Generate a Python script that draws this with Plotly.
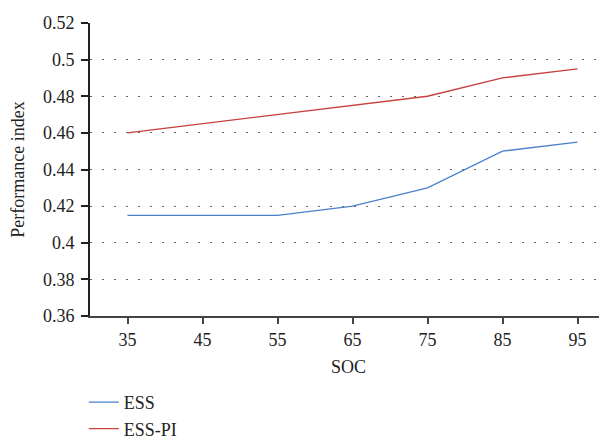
import plotly.graph_objects as go

soc = [35, 45, 55, 65, 75, 85, 95]
ess = [0.415, 0.415, 0.415, 0.42, 0.43, 0.45, 0.455]
ess_pi = [0.46, 0.465, 0.47, 0.475, 0.48, 0.49, 0.495]
y_ticks = [0.36, 0.38, 0.40, 0.42, 0.44, 0.46, 0.48, 0.50, 0.52]
y_tick_text = ["0.36", "0.38", "0.4", "0.42", "0.44", "0.46", "0.48", "0.5", "0.52"]

FONT = "Liberation Serif, serif"

fig = go.Figure()
fig.add_trace(go.Scatter(x=soc, y=ess, mode="lines", name="ESS",
                         line=dict(color="#4a80cc", width=1.3)))
fig.add_trace(go.Scatter(x=soc, y=ess_pi, mode="lines", name="ESS-PI",
                         line=dict(color="#c8403e", width=1.3)))

# page body has ~8px default margin, so the figure is sized/offset to compensate
fig.update_layout(
    width=599, height=434,
    margin=dict(l=82, r=0, t=15, b=126, autoexpand=False),
    paper_bgcolor="white", plot_bgcolor="white",
    font=dict(family=FONT, size=18, color="#222"),
    showlegend=True,
    legend=dict(x=-0.012, y=-0.232, xanchor="left", yanchor="top",
                orientation="v", font=dict(family=FONT, size=18, color="#222"),
                tracegroupgap=0, itemwidth=30, bgcolor="rgba(0,0,0,0)"),
    xaxis=dict(
        range=[30, 98.93], tickvals=soc, ticktext=[str(s) for s in soc],
        showline=True, linecolor="#444", linewidth=2, automargin=False,
        ticks="outside", ticklen=6, tickwidth=1.5, tickcolor="#444",
        showgrid=False, zeroline=False,
        title=dict(text="SOC", font=dict(family=FONT, size=18), standoff=12),
        tickfont=dict(family=FONT, size=18),
    ),
    yaxis=dict(
        range=[0.36, 0.52], tickvals=y_ticks, ticktext=y_tick_text,
        showline=True, linecolor="#222", linewidth=2, automargin=False,
        ticks="outside", ticklen=7, tickwidth=1.5, tickcolor="#222",
        ticklabelstandoff=3,
        showgrid=True, gridcolor="#666", gridwidth=1, griddash="1.5px,10.5px",
        zeroline=False,
        title=dict(text="Performance index", font=dict(family=FONT, size=18), standoff=16),
        tickfont=dict(family=FONT, size=18),
    ),
)

fig.write_html("out.html")
